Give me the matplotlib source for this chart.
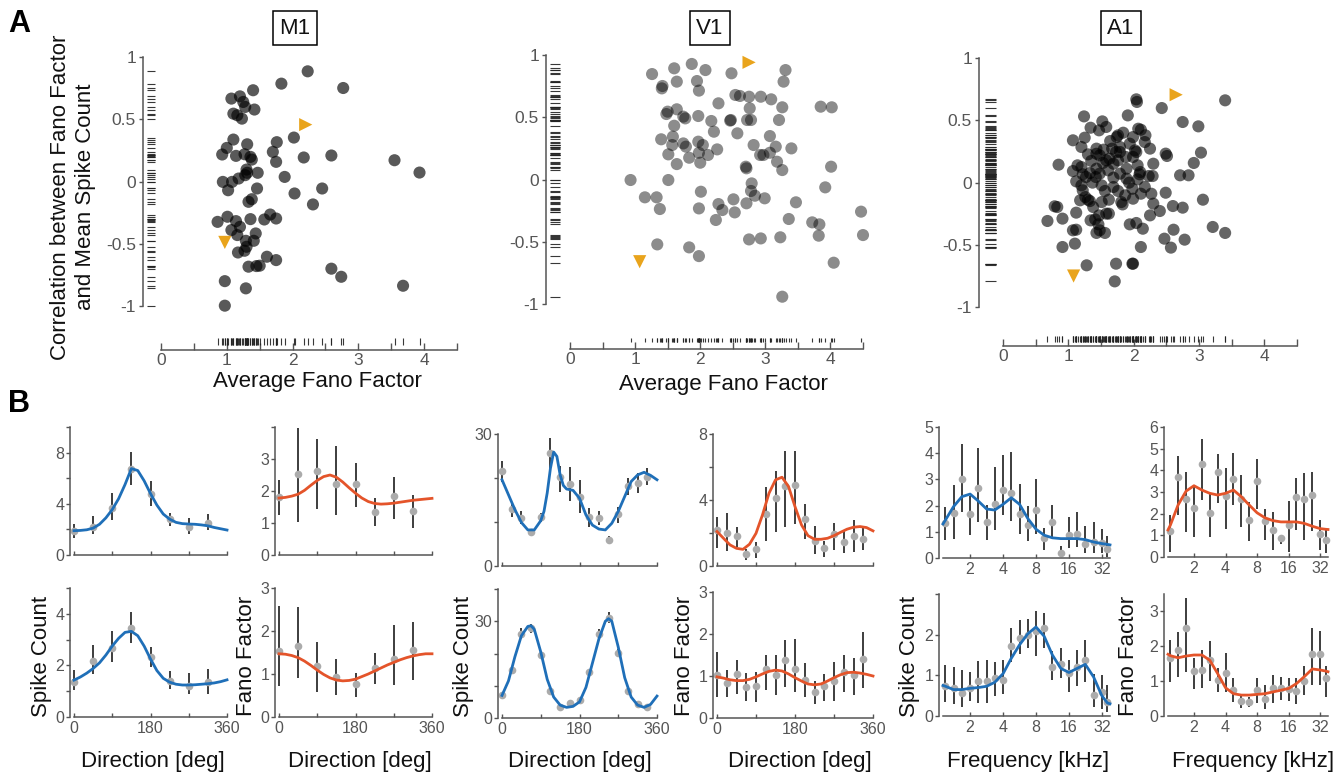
import matplotlib
matplotlib.use("Agg")
import matplotlib.pyplot as plt
from matplotlib.ticker import NullLocator

plt.rcParams['font.family'] = ['Liberation Sans', 'DejaVu Sans']

# ---------------- DATA: panel A (scatter) ----------------
m1_x = [2.23,1.83,2.77,1.40,1.07,1.20,1.25,1.28,1.42,1.10,1.16,1.23,2.02,1.10,1.76,1.31,1.00,0.93,1.14,1.27,
        1.36,1.38,1.70,1.75,2.17,2.59,3.55,3.93,1.30,1.31,1.47,1.28,1.18,1.88,0.94,1.08,1.02,1.46,2.03,2.45,
        1.38,1.33,2.31,0.86,1.01,1.14,1.20,1.36,1.07,1.16,1.57,1.66,1.75,1.44,1.29,1.41,1.30,1.27,1.17,1.61,
        1.75,1.33,1.45,1.50,2.59,2.74,3.68,0.97,1.29,0.97]
m1_y = [0.885,0.786,0.751,0.733,0.666,0.684,0.639,0.599,0.578,0.545,0.532,0.505,0.353,0.337,0.316,0.299,0.27,0.217,0.206,0.219,
        0.198,0.176,0.238,0.158,0.193,0.209,0.171,0.072,0.096,0.07,0.07,0.051,0.024,0.037,-0.003,-0.003,-0.07,-0.056,-0.096,-0.056,
        -0.142,-0.163,-0.184,-0.324,-0.283,-0.318,-0.364,-0.302,-0.39,-0.43,-0.305,-0.265,-0.297,-0.417,-0.476,-0.476,-0.524,-0.556,-0.57,-0.604,
        -0.631,-0.684,-0.679,-0.676,-0.7,-0.765,-0.837,-0.80,-0.858,-0.997]
m1_examples = [(2.2, 0.457), (0.97, -0.489)]

v1_x = [1.87,1.60,1.26,2.08,2.48,3.31,1.95,1.64,3.28,1.42,1.41,1.98,2.54,2.61,2.75,2.93,3.09,2.28,3.26,2.76,
        3.85,4.02,1.50,1.48,1.64,1.74,1.77,1.97,2.17,2.47,2.46,2.72,2.78,3.21,1.60,2.21,2.57,3.07,1.40,1.58,
        1.57,1.74,1.78,1.97,2.04,2.26,2.82,3.16,3.40,1.51,1.98,2.12,1.83,2.00,1.64,2.92,2.97,3.07,3.18,2.70,
        2.71,3.26,4.01,0.93,1.51,2.79,3.92,2.01,2.78,1.15,1.33,2.51,2.84,2.99,3.47,2.28,2.71,1.38,1.98,2.34,
        2.53,2.24,3.36,3.72,3.83,4.47,3.82,4.50,1.34,1.83,2.75,2.93,3.23,1.98,4.05,3.26]
v1_y = [0.928,0.893,0.847,0.879,0.853,0.879,0.791,0.786,0.786,0.751,0.732,0.714,0.679,0.671,0.665,0.665,0.644,0.612,0.58,0.572,
        0.585,0.58,0.545,0.526,0.564,0.505,0.491,0.51,0.47,0.478,0.473,0.478,0.478,0.478,0.432,0.384,0.371,0.349,0.323,0.344,
        0.277,0.29,0.264,0.304,0.277,0.242,0.277,0.264,0.25,0.202,0.215,0.197,0.175,0.135,0.124,0.197,0.197,0.215,0.143,0.103,
        0.09,0.076,0.103,-0.004,-0.004,-0.031,-0.063,-0.098,-0.092,-0.143,-0.143,-0.159,-0.13,-0.151,-0.183,-0.197,-0.191,-0.237,-0.232,-0.245,
        -0.264,-0.325,-0.317,-0.344,-0.36,-0.258,-0.451,-0.446,-0.521,-0.545,-0.481,-0.473,-0.464,-0.615,-0.668,-0.941]
v1_examples = [(2.75, 0.941), (1.07, -0.66)]

a1_x = [2.04,2.05,3.40,2.43,1.24,1.91,2.75,2.99,1.52,1.34,1.47,1.58,2.07,2.11,1.84,2.18,1.25,1.07,1.74,1.76,
        1.99,1.64,2.17,1.20,1.43,1.54,1.67,2.25,1.73,1.79,2.02,2.04,1.30,1.48,1.88,2.49,2.51,3.03,1.35,1.58,
        1.53,1.69,1.63,0.85,1.14,1.20,1.89,2.06,2.92,1.43,1.07,1.22,1.33,2.10,2.09,2.23,2.29,2.71,2.84,1.42,
        1.69,1.89,1.12,1.37,1.20,1.93,2.06,1.98,1.22,1.56,1.76,2.11,2.27,2.49,1.26,1.87,1.30,1.33,1.51,1.62,
        1.81,1.83,3.06,0.79,0.83,2.60,2.75,0.91,0.68,1.12,1.62,1.47,2.40,2.25,1.34,1.41,1.46,1.94,2.04,2.14,
        1.07,1.12,1.43,1.48,1.56,2.61,3.21,3.40,2.47,2.78,1.10,0.91,2.11,2.57,1.28,1.73,1.98,1.99,1.71,
        1.43,1.76,1.99,1.27,1.48,1.61,1.79,1.51,1.69,1.99,2.17,1.38,1.18,1.79,1.94,2.30,1.58,2.30]
a1_y = [0.668,0.647,0.66,0.598,0.531,0.539,0.486,0.451,0.491,0.44,0.419,0.446,0.432,0.424,0.40,0.379,0.36,0.339,0.365,0.379,
        0.365,0.333,0.325,0.285,0.272,0.264,0.272,0.272,0.245,0.245,0.258,0.245,0.226,0.218,0.205,0.232,0.213,0.24,0.173,0.178,
        0.157,0.151,0.191,0.143,0.138,0.124,0.111,0.138,0.157,0.111,0.092,0.066,0.076,0.084,0.066,0.052,0.052,0.058,0.058,0.044,
        0.039,0.031,0.009,-0.001,-0.023,-0.001,0.025,-0.05,-0.063,-0.068,-0.068,-0.09,-0.09,-0.082,-0.117,-0.103,-0.138,-0.149,-0.157,-0.138,
        -0.157,-0.176,-0.138,-0.191,-0.197,-0.189,-0.202,-0.29,-0.309,-0.242,-0.25,-0.264,-0.229,-0.264,-0.304,-0.296,-0.336,-0.336,-0.325,-0.371,
        -0.384,-0.379,-0.405,-0.384,-0.405,-0.379,-0.357,-0.405,-0.451,-0.459,-0.491,-0.518,-0.518,-0.523,-0.665,-0.652,-0.652,-0.652,-0.794,
        0.231,0.178,0.205,0.044,0.071,0.098,0.071,-0.023,-0.036,-0.13,-0.036,-0.197,-0.143,0.285,0.312,0.151,-0.25,-0.17]
a1_examples = [(2.65, 0.705), (1.08, -0.751)]

# ---------------- DATA: panel B (tuning curves) ----------------
dir8 = [0, 45, 90, 135, 180, 225, 270, 315]
dir16 = [0, 22.5, 45, 67.5, 90, 112.5, 135, 157.5, 180, 202.5, 225, 247.5, 270, 292.5, 315, 337.5]
fit_dir = [0, 15, 30, 45, 60, 75, 90, 105, 120, 135, 150, 165, 180, 195, 210, 225, 240, 255, 270, 285, 300, 315, 330, 345, 360]
freqs = [1.19, 1.41, 1.68, 2.0, 2.38, 2.83, 3.36, 4.0, 4.76, 5.66, 6.73, 8.0, 9.51, 11.3, 13.5, 16.0, 19.0, 22.6, 26.9, 32.0, 36.0]
fit_freq = [1.13] + freqs + [38.0]

# M1, neuron 1
m1a_sc = [1.87, 2.16, 3.64, 6.75, 4.75, 2.78, 2.16, 2.47]
m1a_sc_hi = [2.39, 3.04, 4.88, 8.05, 5.77, 3.32, 2.86, 3.2]
m1a_sc_lo = [1.35, 1.61, 2.7, 5.45, 3.84, 2.29, 1.61, 1.95]
m1a_sc_fit = [1.9, 1.92, 1.97, 2.1, 2.4, 2.9, 3.55, 4.4, 5.5, 6.75, 6.6, 5.8, 4.8, 3.9, 3.2, 2.8, 2.55, 2.45, 2.42, 2.4, 2.35, 2.28, 2.15, 2.05, 1.95]
m1a_ff = [1.82, 2.52, 2.62, 2.21, 2.23, 1.35, 1.84, 1.37]
m1a_ff_hi = [2.34, 3.97, 3.61, 3.40, 2.88, 1.79, 2.44, 1.87]
m1a_ff_lo = [1.25, 1.02, 1.43, 1.25, 1.51, 0.90, 1.14, 0.83]
m1a_ff_fit = [1.78, 1.8, 1.84, 1.9, 2.02, 2.18, 2.33, 2.45, 2.5, 2.43, 2.28, 2.1, 1.93, 1.78, 1.67, 1.61, 1.59, 1.6, 1.62, 1.65, 1.68, 1.71, 1.73, 1.75, 1.77]
# M1, neuron 2
m1b_sc = [1.36, 2.17, 2.66, 3.44, 2.31, 1.40, 1.21, 1.34]
m1b_sc_hi = [1.82, 2.79, 3.34, 4.06, 2.70, 1.79, 1.69, 1.86]
m1b_sc_lo = [1.04, 1.65, 2.12, 2.88, 1.92, 1.08, 0.91, 0.91]
m1b_sc_fit = [1.43, 1.55, 1.7, 1.88, 2.1, 2.4, 2.75, 3.05, 3.28, 3.32, 3.15, 2.75, 2.25, 1.8, 1.5, 1.35, 1.27, 1.24, 1.24, 1.25, 1.27, 1.29, 1.32, 1.37, 1.44]
m1b_ff = [1.54, 1.64, 1.19, 0.94, 0.76, 1.15, 1.34, 1.56]
m1b_ff_hi = [2.59, 2.55, 1.75, 1.35, 1.03, 1.50, 2.14, 2.21]
m1b_ff_lo = [0.72, 0.91, 0.58, 0.52, 0.47, 0.76, 0.74, 0.86]
m1b_ff_fit = [1.47, 1.46, 1.43, 1.38, 1.3, 1.2, 1.09, 0.99, 0.91, 0.86, 0.84, 0.85, 0.88, 0.94, 1.0, 1.07, 1.14, 1.21, 1.27, 1.33, 1.38, 1.42, 1.45, 1.47, 1.47]

# V1, neuron 1
v1a_sc = [21.5, 12.9, 10.9, 7.7, 11.2, 25.7, 20.2, 18.6, 15.6, 11.1, 10.9, 5.9, 11.8, 18.1, 18.9, 20.2]
v1a_sc_hi = [23.9, 14.3, 12.4, 8.4, 12.1, 29.2, 22.8, 22.4, 19.6, 13.1, 12.4, 6.9, 13.3, 20.1, 21.1, 22.2]
v1a_sc_lo = [19.2, 11.2, 9.5, 6.9, 9.9, 22.0, 16.8, 14.8, 12.1, 8.8, 9.3, 4.9, 9.7, 16.2, 16.7, 18.5]
v1a_sc_fit_dir = [0, 15, 30, 45, 60, 75, 90, 97.5, 105, 112.5, 120, 127.5, 135, 142.5, 150, 165, 180, 195, 210, 225, 240, 255, 270, 285, 300, 315, 330, 345, 360]
v1a_sc_fit = [19.6, 16.2, 12.8, 9.9, 8.2, 8.2, 10.3, 12.4, 16.6, 22.2, 25.9, 24.9, 20.7, 18.3, 17.5, 17.2, 15.4, 11.6, 9.3, 8.4, 8.2, 9.7, 12.4, 15.8, 19.2, 20.7, 21.3, 20.6, 19.6]
v1a_ff = [2.19, 1.98, 1.84, 0.71, 1.01, 3.14, 4.11, 4.86, 4.92, 2.83, 1.54, 1.11, 1.92, 1.48, 1.82, 1.64]
v1a_ff_hi = [3.0, 3.2, 2.35, 1.03, 1.48, 4.76, 5.77, 6.98, 7.0, 3.74, 2.43, 1.52, 2.63, 2.13, 2.79, 2.33]
v1a_ff_lo = [1.11, 0.91, 1.17, 0.36, 0.51, 1.52, 2.09, 2.39, 2.55, 1.62, 0.71, 0.57, 0.97, 0.81, 0.87, 0.97]
v1a_ff_fit = [2.09, 1.68, 1.28, 1.07, 1.01, 1.32, 1.98, 3.1, 4.41, 5.22, 5.38, 4.82, 3.6, 2.49, 1.84, 1.62, 1.62, 1.68, 1.84, 2.04, 2.23, 2.35, 2.39, 2.33, 2.13]
# V1, neuron 2
v1b_sc = [7.2, 15.0, 26.1, 27.9, 19.4, 8.5, 3.3, 4.7, 5.7, 14.3, 25.9, 31.0, 20.2, 8.3, 4.3, 3.3]
v1b_sc_hi = [8.0, 16.0, 27.9, 29.3, 20.5, 9.3, 3.9, 5.3, 6.5, 15.3, 27.6, 32.8, 21.4, 9.2, 5.0, 3.9]
v1b_sc_lo = [6.4, 14.0, 24.6, 26.4, 18.3, 7.7, 2.7, 4.1, 4.9, 13.3, 24.2, 29.5, 19.0, 7.4, 3.6, 2.7]
v1b_sc_fit_dir = [0, 15, 30, 45, 60, 67.5, 75, 90, 105, 120, 135, 150, 165, 180, 195, 210, 225, 240, 247.5, 255, 270, 285, 300, 315, 330, 345, 360]
v1b_sc_fit = [7.0, 11.5, 19.0, 25.5, 28.4, 28.6, 27.5, 20.5, 12.0, 6.5, 4.0, 3.3, 3.6, 5.0, 9.5, 17.0, 24.5, 30.0, 30.8, 30.0, 22.0, 12.5, 6.5, 4.0, 3.3, 4.2, 6.8]
v1b_ff = [1.03, 0.84, 1.05, 0.75, 0.77, 1.17, 1.03, 1.37, 1.17, 0.91, 0.61, 0.77, 0.89, 1.10, 1.03, 1.40]
v1b_ff_hi = [1.56, 1.14, 1.37, 1.08, 1.09, 1.50, 1.50, 1.85, 1.89, 1.30, 0.87, 1.04, 1.34, 1.50, 1.42, 2.04]
v1b_ff_lo = [0.49, 0.51, 0.57, 0.41, 0.39, 0.67, 0.55, 0.75, 0.62, 0.51, 0.33, 0.41, 0.41, 0.63, 0.55, 0.71]
v1b_ff_fit = [0.98, 0.95, 0.91, 0.89, 0.89, 0.92, 0.98, 1.05, 1.11, 1.14, 1.12, 1.05, 0.96, 0.88, 0.81, 0.79, 0.81, 0.88, 0.96, 1.03, 1.08, 1.09, 1.07, 1.04, 1.0]

# A1, neuron 1
a1a_sc = [1.32, 1.70, 3.02, 1.68, 2.69, 1.36, 2.08, 2.60, 2.49, 1.68, 1.25, 1.83, 0.77, 1.36, 0.19, 0.87, 0.93, 0.52, 0.61, 0.59, 0.36]
a1a_sc_hi = [1.96, 2.79, 4.35, 2.37, 4.19, 2.02, 3.47, 3.94, 4.04, 2.81, 2.00, 3.02, 1.15, 2.02, 0.45, 1.55, 1.76, 1.21, 1.36, 1.09, 0.83]
a1a_sc_lo = [0.68, 0.74, 1.74, 0.87, 1.38, 0.68, 1.06, 1.64, 1.41, 0.93, 0.64, 0.93, 0.32, 0.81, 0.04, 0.38, 0.42, 0.19, 0.19, 0.19, 0.04]
a1a_sc_fit = [1.3, 1.45, 1.96, 2.34, 2.44, 2.17, 1.87, 1.83, 2.05, 2.30, 2.05, 1.51, 1.10, 0.87, 0.77, 0.74, 0.74, 0.74, 0.70, 0.61, 0.55, 0.52, 0.5]
a1a_ff = [1.19, 3.71, 2.70, 2.24, 4.30, 2.01, 3.91, 2.81, 3.60, 2.67, 1.70, 3.52, 1.65, 1.24, 0.88, 1.47, 2.78, 2.66, 2.86, 1.08, 0.80]
a1a_ff_hi = [1.96, 4.67, 3.94, 3.32, 5.46, 2.94, 4.74, 4.10, 4.79, 3.79, 2.52, 4.53, 2.21, 2.09, 1.00, 2.58, 3.63, 3.86, 3.91, 1.70, 1.31]
a1a_ff_lo = [0.23, 1.93, 1.16, 0.93, 2.63, 0.93, 2.47, 1.31, 2.40, 1.39, 0.73, 2.21, 0.77, 0.31, 0.62, 0.23, 1.24, 0.77, 1.19, 0.31, 0.20]
a1a_ff_fit = [1.25, 1.47, 2.40, 3.04, 3.29, 3.09, 2.94, 2.86, 2.94, 3.09, 2.78, 2.40, 2.04, 1.81, 1.68, 1.62, 1.62, 1.62, 1.55, 1.42, 1.31, 1.28, 1.27]
# A1, neuron 2
a1b_sc = [0.73, 0.68, 0.56, 0.68, 0.86, 0.86, 0.93, 0.89, 1.72, 1.93, 2.00, 2.08, 2.17, 1.21, 1.27, 1.06, 1.21, 1.38, 0.52, 0.58, 0.35]
a1b_sc_hi = [1.25, 1.21, 1.12, 1.08, 1.35, 1.37, 1.32, 1.37, 2.17, 2.36, 2.38, 2.58, 2.54, 1.60, 1.67, 1.38, 1.63, 1.88, 1.04, 1.00, 0.77]
a1b_sc_lo = [0.35, 0.29, 0.21, 0.36, 0.33, 0.33, 0.50, 0.54, 1.33, 1.52, 1.67, 1.48, 1.68, 0.88, 0.93, 0.58, 0.75, 0.83, 0.21, 0.17, 0.10]
a1b_sc_fit = [0.75, 0.73, 0.65, 0.65, 0.68, 0.70, 0.73, 0.83, 1.04, 1.42, 1.75, 2.02, 2.19, 1.96, 1.50, 1.17, 1.07, 1.17, 1.27, 0.96, 0.50, 0.32, 0.3]
a1b_ff = [1.65, 1.89, 2.52, 1.29, 1.32, 1.61, 1.03, 1.22, 0.74, 0.42, 0.40, 0.74, 0.50, 0.79, 0.79, 0.77, 0.71, 1.00, 1.77, 1.77, 1.08]
a1b_ff_hi = [2.18, 2.42, 3.38, 1.67, 1.89, 2.15, 1.37, 1.80, 1.08, 0.60, 0.55, 1.08, 0.90, 1.17, 1.13, 1.10, 1.08, 1.44, 2.52, 2.44, 1.44]
a1b_ff_lo = [0.98, 1.13, 1.27, 0.77, 0.81, 1.00, 0.69, 0.69, 0.40, 0.23, 0.26, 0.38, 0.21, 0.38, 0.45, 0.42, 0.33, 0.60, 0.88, 0.88, 0.55]
a1b_ff_fit = [1.77, 1.73, 1.67, 1.72, 1.75, 1.75, 1.60, 1.22, 0.81, 0.64, 0.60, 0.60, 0.62, 0.64, 0.69, 0.74, 0.79, 0.93, 1.13, 1.35, 1.32, 1.29, 1.27]

# ---------------- STYLE ----------------
W, H = 1343, 774
fig = plt.figure(figsize=(W / 100, H / 100), dpi=100)

SPINE = '#555555'
TICKLAB = '#555555'
DOT = '#ababab'
BAR = '#3d3d3d'
BLUE = '#1f6fb8'
RED = '#e4542a'
TRI = '#e9a41c'
TXT = '#111111'
LABEL_FS = 16


def add_ax(left, top, right, bottom):
    ax = fig.add_axes([left / W, 1 - bottom / H, (right - left) / W, (bottom - top) / H])
    ax.patch.set_visible(False)
    return ax


def scatter_panel(box, xlo, ylo, xs, ys, alpha, examples, yrug, xrug):
    ax = add_ax(*box)
    ax.set_xlim(xlo, 4.5)
    ax.set_ylim(ylo, 1.0)
    ax.scatter(xs, ys, s=76, c='black', alpha=alpha, edgecolors='none', zorder=3, clip_on=False)
    ax.vlines(xs, xrug[0], xrug[1], colors='#222222', lw=0.8, alpha=0.9)
    ax.hlines(ys, yrug[0], yrug[1], colors='#222222', lw=0.8, alpha=0.9)
    ax.scatter([examples[0][0]], [examples[0][1]], marker='>', s=90, c=TRI, edgecolors='none', zorder=4)
    ax.scatter([examples[1][0]], [examples[1][1]], marker='v', s=90, c=TRI, edgecolors='none', zorder=4)
    for s in ['top', 'right']:
        ax.spines[s].set_visible(False)
    ax.spines['left'].set_bounds(-1, 1)
    ax.spines['bottom'].set_bounds(0, 4.5)
    for s in ['left', 'bottom']:
        ax.spines[s].set_color(SPINE)
        ax.spines[s].set_linewidth(1.1)
    ax.set_yticks([-1, -0.5, 0, 0.5, 1])
    ax.set_yticklabels(['-1', '-0.5', '0', '0.5', '1'])
    xt = [0, 0.5, 1, 1.5, 2, 2.5, 3, 3.5, 4, 4.5]
    ax.set_xticks(xt)
    ax.set_xticklabels([str(int(v)) if float(v).is_integer() else '' for v in xt])
    ax.tick_params(axis='y', direction='out', length=3, width=1, color=SPINE,
                   labelsize=12.5, labelcolor=TICKLAB, pad=2)
    ax.tick_params(axis='x', direction='in', length=5, width=1, color=SPINE,
                   labelsize=12.5, labelcolor=TICKLAB, pad=2)
    return ax


def tuning_panel(box, ymax, yt, ylab, x, mean, lo, hi, fx, fy, color, kind, xlabels):
    ax = add_ax(*box)
    ax.vlines(x, lo, hi, colors=BAR, lw=1.4, zorder=1, clip_on=False)
    ax.plot(x, mean, 'o', ms=5.5, color=DOT, mec='none', zorder=2, clip_on=False)
    ax.plot(fx, fy, color=color, lw=2.0, zorder=3, clip_on=False)
    if kind == 'dir':
        ax.set_xlim(0, 360)
        ax.set_xticks([0, 90, 180, 270, 360])
        ax.set_xticklabels(['0', '', '180', '', '360'] if xlabels else [])
    else:
        ax.set_xscale('log', base=2)
        ax.set_xlim(1.13, 38)
        ax.set_xticks([2, 4, 8, 16, 32])
        ax.set_xticklabels(['2', '4', '8', '16', '32'])
        ax.xaxis.set_minor_locator(NullLocator())
    ax.set_ylim(0, ymax)
    ax.set_yticks(yt)
    ax.set_yticklabels(ylab)
    for s in ['top', 'right']:
        ax.spines[s].set_visible(False)
    ax.spines['left'].set_position(('outward', 3))
    for s in ['left', 'bottom']:
        ax.spines[s].set_color(SPINE)
        ax.spines[s].set_linewidth(1.1)
    ax.tick_params(axis='y', direction='out', length=3, width=1, color=SPINE,
                   labelsize=11.5, labelcolor=TICKLAB, pad=1)
    ax.tick_params(axis='x', direction='in', length=3, width=1, color=SPINE,
                   labelsize=11.5, labelcolor=TICKLAB, pad=3)
    return ax


def fxy(px, py, s, **kw):
    fig.text(px / W, 1 - py / H, s, **kw)


# ---------------- PANEL A ----------------
scatter_panel((143, 57, 457, 350), -0.274, -1.353, m1_x, m1_y, 0.65, m1_examples,
              (-0.213, -0.091), (-1.313, -1.257))
scatter_panel((546, 55, 863, 349), -0.369, -1.361, v1_x, v1_y, 0.45, v1_examples,
              (-0.307, -0.154), (-1.305, -1.273))
scatter_panel((979, 58, 1297, 346), -0.368, -1.313, a1_x, a1_y, 0.6, a1_examples,
              (-0.276, -0.107), (-1.281, -1.233))

box = dict(boxstyle='square,pad=0.28', fc='white', ec='black', lw=1.1)
for name, cx in [('M1', 295), ('V1', 710), ('A1', 1121)]:
    fxy(cx, 28, name, ha='center', va='center', fontsize=16, color=TXT, bbox=box)

fxy(317, 382, 'Average Fano Factor', ha='center', va='center', fontsize=LABEL_FS, color=TXT)
fxy(723, 385, 'Average Fano Factor', ha='center', va='center', fontsize=LABEL_FS, color=TXT)
fxy(73, 197, 'Correlation between Fano Factor\nand Mean Spike Count', ha='center', va='center',
    rotation=90, fontsize=LABEL_FS, color=TXT, linespacing=1.2, multialignment='center')

fxy(8, 24, 'A', ha='left', va='center', fontsize=22, fontweight='bold', color='black')
fxy(8, 404, 'B', ha='left', va='center', fontsize=22, fontweight='bold', color='black')

# ---------------- PANEL B ----------------
# M1
tuning_panel((74, 427, 227, 555), 10, [0, 2, 4, 6, 8, 10], ['0', '', '4', '', '8', ''],
             dir8, m1a_sc, m1a_sc_lo, m1a_sc_hi, fit_dir, m1a_sc_fit, BLUE, 'dir', False)
tuning_panel((74, 588, 227, 717), 5, [0, 1, 2, 3, 4, 5], ['0', '', '2', '', '4', ''],
             dir8, m1b_sc, m1b_sc_lo, m1b_sc_hi, fit_dir, m1b_sc_fit, BLUE, 'dir', True)
tuning_panel((279, 427, 432, 555), 4, [0, 1, 2, 3, 4], ['0', '1', '2', '3', ''],
             dir8, m1a_ff, m1a_ff_lo, m1a_ff_hi, fit_dir, m1a_ff_fit, RED, 'dir', False)
tuning_panel((279, 588, 432, 717), 3, [0, 1, 2, 3], ['0', '1', '2', '3'],
             dir8, m1b_ff, m1b_ff_lo, m1b_ff_hi, fit_dir, m1b_ff_fit, RED, 'dir', True)
# V1
tuning_panel((502, 434, 657, 566), 30, [0, 10, 20, 30], ['0', '', '', '30'],
             dir16, v1a_sc, v1a_sc_lo, v1a_sc_hi, v1a_sc_fit_dir, v1a_sc_fit, BLUE, 'dir', False)
tuning_panel((502, 589, 657, 718), 40, [0, 10, 20, 30, 40], ['0', '', '', '30', ''],
             dir16, v1b_sc, v1b_sc_lo, v1b_sc_hi, v1b_sc_fit_dir, v1b_sc_fit, BLUE, 'dir', True)
tuning_panel((717, 434, 873, 566), 8, [0, 2, 4, 6, 8], ['0', '', '4', '', '8'],
             dir16, v1a_ff, v1a_ff_lo, v1a_ff_hi, fit_dir, v1a_ff_fit, RED, 'dir', False)
tuning_panel((717, 592, 873, 718), 3, [0, 1, 2, 3], ['0', '1', '2', '3'],
             dir16, v1b_ff, v1b_ff_lo, v1b_ff_hi, fit_dir, v1b_ff_fit, RED, 'dir', True)
# A1
tuning_panel((943, 427, 1110, 558), 5, [0, 1, 2, 3, 4, 5], ['0', '1', '2', '3', '4', '5'],
             freqs, a1a_sc, a1a_sc_lo, a1a_sc_hi, fit_freq, a1a_sc_fit, BLUE, 'freq', True)
tuning_panel((943, 594, 1110, 716), 3, [0, 1, 2, 3], ['0', '1', '2', ''],
             freqs, a1b_sc, a1b_sc_lo, a1b_sc_hi, fit_freq, a1b_sc_fit, BLUE, 'freq', True)
tuning_panel((1168, 427, 1328, 557), 6, [0, 1, 2, 3, 4, 5, 6], ['0', '1', '2', '3', '4', '5', '6'],
             freqs, a1a_ff, a1a_ff_lo, a1a_ff_hi, fit_freq, a1a_ff_fit, RED, 'freq', True)
tuning_panel((1168, 594, 1328, 716), 3.5, [0, 1, 2, 3], ['0', '1', '2', '3'],
             freqs, a1b_ff, a1b_ff_lo, a1b_ff_hi, fit_freq, a1b_ff_fit, RED, 'freq', True)

for px, lab in [(41, 'Spike Count'), (247, 'Fano Factor'), (463, 'Spike Count'),
                (685, 'Fano Factor'), (910, 'Spike Count'), (1129, 'Fano Factor')]:
    fxy(px, 656, lab, ha='center', va='center', rotation=90, fontsize=LABEL_FS, color=TXT)

for px, lab in [(153, 'Direction [deg]'), (360, 'Direction [deg]'), (580, 'Direction [deg]'),
                (800, 'Direction [deg]'), (1028, 'Frequency [kHz]'), (1253, 'Frequency [kHz]')]:
    fxy(px, 761, lab, ha='center', va='center', fontsize=LABEL_FS, color=TXT)

fig.savefig('out.png', dpi=100, facecolor='white')
